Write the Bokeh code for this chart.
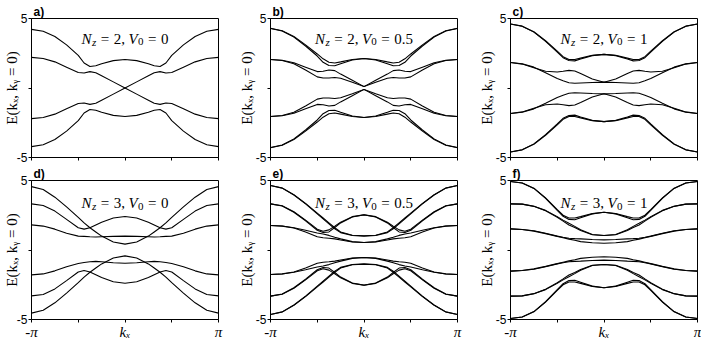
import numpy as np
from bokeh.plotting import figure
from bokeh.models import Label, FixedTicker, Range1d, Title
from bokeh.layouts import column, row
from bokeh.embed import file_html
from bokeh.resources import INLINE

# kx / pi, from the zone centre to the zone edge (curves are mirror-symmetric in kx)
KX_HALF = [0, 0.125, 0.25, 0.3125, 0.375, 0.4375, 0.5, 0.625, 0.75, 0.875, 1.0]

# ---- a) Nz = 2, V0 = 0
A1 = [2.05, 1.97, 1.75, 1.6, 1.55, 1.8, 2.35, 3.1, 3.7, 4.08, 4.22]
A2 = [0.0, 0.44, 0.88, 1.1, 1.18, 1.08, 1.12, 1.5, 1.88, 2.12, 2.2]
A3 = [0.0, -0.44, -0.88, -1.1, -1.18, -1.08, -1.12, -1.5, -1.88, -2.12, -2.2]
A4 = [-2.05, -1.97, -1.75, -1.6, -1.55, -1.8, -2.35, -3.1, -3.7, -4.08, -4.22]

# ---- b) Nz = 2, V0 = 0.5
B1 = [2.12, 2.05, 1.88, 1.8, 1.85, 2.1, 2.45, 3.1, 3.7, 4.12, 4.3]
B2 = [2.12, 2.02, 1.75, 1.6, 1.62, 1.85, 2.3, 3.02, 3.66, 4.1, 4.28]
B3 = [0.1, 0.55, 1.0, 1.25, 1.3, 1.2, 1.18, 1.5, 1.82, 2.0, 2.05]
B4 = [0.1, 0.42, 0.7, 0.75, 0.72, 0.72, 0.8, 1.3, 1.75, 1.98, 2.05]
B5 = [-0.1, -0.42, -0.7, -0.75, -0.72, -0.72, -0.8, -1.3, -1.75, -1.98, -2.05]
B6 = [-0.1, -0.55, -1.0, -1.25, -1.3, -1.2, -1.18, -1.5, -1.82, -2.0, -2.05]
B7 = [-2.12, -2.02, -1.75, -1.6, -1.62, -1.85, -2.3, -3.02, -3.66, -4.1, -4.28]
B8 = [-2.12, -2.05, -1.88, -1.8, -1.85, -2.1, -2.45, -3.1, -3.7, -4.12, -4.3]

# ---- c) Nz = 2, V0 = 1
C1 = [2.42, 2.35, 2.15, 2.05, 2.05, 2.25, 2.65, 3.4, 4.05, 4.45, 4.6]
C2 = [2.42, 2.33, 2.08, 1.95, 1.98, 2.18, 2.58, 3.35, 4.02, 4.44, 4.6]
C3 = [0.42, 0.65, 1.05, 1.22, 1.27, 1.2, 1.15, 1.2, 1.45, 1.72, 1.83]
C4 = [0.42, 0.4, 0.36, 0.34, 0.38, 0.52, 0.68, 1.1, 1.5, 1.75, 1.83]
C5 = [-0.42, -0.4, -0.36, -0.34, -0.38, -0.52, -0.68, -1.1, -1.5, -1.75, -1.83]
C6 = [-0.42, -0.65, -1.05, -1.22, -1.27, -1.2, -1.15, -1.2, -1.45, -1.72, -1.83]
C7 = [-2.42, -2.33, -2.08, -1.95, -1.98, -2.18, -2.58, -3.35, -4.02, -4.44, -4.6]
C8 = [-2.42, -2.35, -2.15, -2.05, -2.05, -2.25, -2.65, -3.4, -4.05, -4.45, -4.6]

# ---- d) Nz = 3, V0 = 0
D1 = [0.42, 0.58, 1.0, 1.3, 1.6, 1.95, 2.35, 3.1, 3.8, 4.35, 4.56]
D2 = [2.41, 2.3, 2.0, 1.8, 1.6, 1.5, 1.6, 2.2, 2.8, 3.2, 3.32]
D3 = [1.0, 0.98, 0.95, 0.93, 0.95, 0.98, 1.0, 1.2, 1.5, 1.72, 1.81]
D4 = [-0.95, -0.92, -0.85, -0.82, -0.85, -0.9, -0.97, -1.2, -1.5, -1.72, -1.79]
D5 = [-2.39, -2.28, -1.98, -1.78, -1.58, -1.48, -1.58, -2.2, -2.8, -3.2, -3.3]
D6 = [-0.42, -0.58, -1.0, -1.3, -1.6, -1.95, -2.35, -3.1, -3.8, -4.33, -4.54]

# ---- e) Nz = 3, V0 = 0.5
E1 = [1.02, 1.06, 1.3, 1.6, 1.95, 2.3, 2.65, 3.35, 3.98, 4.46, 4.64]
E2 = [1.0, 1.04, 1.25, 1.52, 1.88, 2.24, 2.6, 3.32, 3.96, 4.45, 4.64]
E3 = [2.53, 2.4, 2.0, 1.72, 1.45, 1.35, 1.5, 2.15, 2.75, 3.18, 3.32]
E4 = [2.53, 2.38, 1.95, 1.62, 1.3, 1.26, 1.42, 2.1, 2.72, 3.17, 3.32]
E5 = [0.54, 0.6, 0.8, 0.92, 1.05, 1.15, 1.22, 1.42, 1.6, 1.73, 1.76]
E6 = [0.54, 0.58, 0.72, 0.8, 0.85, 0.88, 0.95, 1.3, 1.58, 1.72, 1.76]
E7 = [-0.54, -0.58, -0.72, -0.8, -0.85, -0.88, -0.95, -1.3, -1.58, -1.72, -1.76]
E8 = [-0.54, -0.6, -0.8, -0.92, -1.05, -1.15, -1.22, -1.42, -1.6, -1.73, -1.76]
E9 = [-2.53, -2.38, -1.95, -1.62, -1.3, -1.26, -1.42, -2.1, -2.72, -3.17, -3.32]
E10 = [-2.53, -2.4, -2.0, -1.72, -1.45, -1.35, -1.5, -2.15, -2.75, -3.18, -3.32]
E11 = [-1.0, -1.04, -1.25, -1.52, -1.88, -2.24, -2.6, -3.32, -3.96, -4.45, -4.64]
E12 = [-1.02, -1.06, -1.3, -1.6, -1.95, -2.3, -2.65, -3.35, -3.98, -4.46, -4.64]

# ---- f) Nz = 3, V0 = 1
F1 = [2.72, 2.62, 2.4, 2.3, 2.3, 2.5, 2.9, 3.75, 4.45, 4.82, 4.93]
F2 = [2.72, 2.6, 2.32, 2.18, 2.2, 2.42, 2.85, 3.72, 4.43, 4.82, 4.93]
F3 = [1.04, 1.12, 1.45, 1.7, 1.92, 2.15, 2.4, 2.85, 3.15, 3.3, 3.32]
F4 = [1.04, 1.1, 1.4, 1.62, 1.8, 2.08, 2.35, 2.82, 3.14, 3.3, 3.32]
F5 = [0.73, 0.75, 0.8, 0.82, 0.85, 0.92, 1.0, 1.2, 1.38, 1.48, 1.52]
F6 = [0.49, 0.52, 0.6, 0.7, 0.78, 0.88, 0.98, 1.18, 1.36, 1.48, 1.52]
F7 = [-0.49, -0.52, -0.6, -0.7, -0.78, -0.88, -0.98, -1.18, -1.36, -1.48, -1.52]
F8 = [-0.73, -0.75, -0.8, -0.82, -0.85, -0.92, -1.0, -1.2, -1.38, -1.48, -1.52]
F9 = [-1.04, -1.1, -1.4, -1.62, -1.8, -2.08, -2.35, -2.82, -3.14, -3.3, -3.32]
F10 = [-1.04, -1.12, -1.45, -1.7, -1.92, -2.15, -2.4, -2.85, -3.15, -3.3, -3.32]
F11 = [-2.72, -2.6, -2.32, -2.18, -2.2, -2.42, -2.85, -3.72, -4.43, -4.82, -4.93]
F12 = [-2.72, -2.62, -2.4, -2.3, -2.3, -2.5, -2.9, -3.75, -4.45, -4.82, -4.93]

LETTERS = ["a)", "b)", "c)", "d)", "e)", "f)"]
NZ = ["2", "2", "2", "3", "3", "3"]
V0 = ["0", "0.5", "1", "0", "0.5", "1"]
BANDS = [
    [A1, A2, A3, A4],
    [B1, B2, B3, B4, B5, B6, B7, B8],
    [C1, C2, C3, C4, C5, C6, C7, C8],
    [D1, D2, D3, D4, D5, D6],
    [E1, E2, E3, E4, E5, E6, E7, E8, E9, E10, E11, E12],
    [F1, F2, F3, F4, F5, F6, F7, F8, F9, F10, F11, F12],
]
X_MAJOR = [-1, 0, 1]
X_MINOR = [-0.5, 0.5]
X_TICK_LABELS = {-1: "-π", 0: "kₓ", 1: "π"}
Y_MAJOR = [-5, 5]
Y_MINOR = [0]
Y_TICK_LABELS = {-5: "-5", 5: "5"}
Y_LABEL = "E(kₓ, kᵧ = 0)"

SERIF = "Liberation Serif"
SANS = "Liberation Sans"
FRAME_W, FRAME_H = 187, 139

W_ROMAN = {'=': 0.564, ',': 0.25, '.': 0.25, '(': 0.333, ')': 0.333, 'E': 0.611, '-': 0.333}
W_ITAL = {'N': 0.667, 'V': 0.611, 'z': 0.389, 'k': 0.444, 'x': 0.444, 'y': 0.444}


def tw(s, italic, size):
    tbl = W_ITAL if italic else W_ROMAN
    return sum(tbl.get(c, 0.5) for c in s) * size


def full(half):
    h = list(half)
    return h[::-1] + h[1:]


KX_FULL = [-v for v in KX_HALF[::-1]] + KX_HALF[1:]


def make_panel(i):
    col, rw = i % 3, i // 3
    left = [26, 40, 40][col]
    right = [12, 13, 9][col]
    top = [18, 15][rw]
    bottom = [7, 22][rw]
    p = figure(frame_width=FRAME_W, frame_height=FRAME_H,
               x_range=Range1d(-1, 1), y_range=Range1d(-5, 5),
               output_backend="svg", toolbar_location=None,
               min_border_left=left, min_border_right=right,
               min_border_top=top, min_border_bottom=bottom,
               background_fill_color="white", border_fill_color="white")
    p.xgrid.visible = False
    p.ygrid.visible = False
    p.outline_line_color = "black"
    p.outline_line_width = 1

    for ax in (p.xaxis[0], p.yaxis[0]):
        ax.axis_line_color = "black"
        ax.major_tick_line_color = "black"
        ax.minor_tick_line_color = "black"
        ax.major_tick_out = 3
        ax.major_tick_in = 0
        ax.minor_tick_out = 3
        ax.minor_tick_in = 0
        ax.major_label_text_color = "black"

    # y axis: labelled ticks at -5 and 5, unlabelled tick at 0
    p.yaxis.ticker = FixedTicker(ticks=Y_MAJOR, minor_ticks=Y_MINOR)
    p.yaxis.major_label_overrides = Y_TICK_LABELS
    p.yaxis.major_label_text_font = SANS
    p.yaxis.major_label_text_font_size = "12px"
    p.yaxis.major_label_standoff = 1
    p.yaxis.axis_label = Y_LABEL
    p.yaxis.axis_label_text_font = SERIF
    p.yaxis.axis_label_text_font_style = "normal"
    p.yaxis.axis_label_text_font_size = "15px"
    p.yaxis.axis_label_text_color = "black"
    p.yaxis.axis_label_standoff = [-6, -2, -2][col]

    if rw == 0:
        p.xaxis.ticker = FixedTicker(ticks=[], minor_ticks=X_MAJOR + X_MINOR)
    else:
        p.xaxis.ticker = FixedTicker(ticks=X_MAJOR, minor_ticks=X_MINOR)
        p.xaxis.major_label_overrides = X_TICK_LABELS
        p.xaxis.major_label_text_font = SERIF
        p.xaxis.major_label_text_font_style = "italic"
        p.xaxis.major_label_text_font_size = "15px"
        p.xaxis.major_label_standoff = 1

    for band in BANDS[i]:
        p.line(KX_FULL, full(band), line_color="black", line_width=1.1)

    # panel letter
    p.add_layout(Title(text=LETTERS[i], align="left", offset=2, standoff=0,
                       text_font=SANS, text_font_style="bold", text_font_size="12px",
                       text_color="black"), "above")

    # title N_z = .., V_0 = ..  (text, italic, size, subscript, gap before in px)
    base_y = [3.56, 3.38][rw]
    sub_dy = 3.0 / (FRAME_H / 10.0)
    pieces = [("N", True, 15, 0, 0), ("z", True, 11, 1, 0.5), ("=", False, 15, 0, 4.5),
              (NZ[i] + ",", False, 15, 0, 4.5), ("V", True, 15, 0, 3.5),
              ("0", False, 11, 1, 0.3), ("=", False, 15, 0, 4.5), (V0[i], False, 15, 0, 4.5)]
    total = sum(tw(t, it, s) + g for t, it, s, _, g in pieces)
    cx = -total / 2.0
    for t, it, s, sub, g in pieces:
        cx += g
        p.add_layout(Label(x=0, y=base_y - sub * sub_dy, x_offset=cx, text=t,
                           text_font=SERIF, text_font_style="italic" if it else "normal",
                           text_font_size="%dpx" % s, text_align="left",
                           text_baseline="alphabetic", text_color="black"))
        cx += tw(t, it, s)
    return p


panels = [make_panel(i) for i in range(6)]
layout = column(row(*panels[:3]), row(*panels[3:]))
open("out.html", "w").write(file_html(layout, INLINE))
